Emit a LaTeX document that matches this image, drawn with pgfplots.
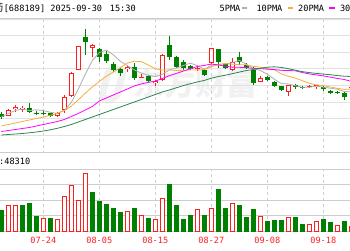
\documentclass[border=0pt]{standalone}
\usepackage{pgfplots}
\pgfplotsset{compat=1.18}
\usepackage{pgfplotstable}
\usepackage{fontspec}
\newfontfamily\monofont{DejaVu Sans Mono}
\newfontfamily\cjk{Noto Sans CJK SC}
\definecolor{kred}{RGB}{255,30,30}
\definecolor{kgreen}{RGB}{0,128,0}
\definecolor{maf}{RGB}{175,175,175}
\definecolor{mat}{RGB}{245,175,60}
\definecolor{maw}{RGB}{255,0,255}
\definecolor{mah}{RGB}{40,135,80}
\definecolor{gridc}{RGB}{225,225,225}
\definecolor{gridd}{RGB}{205,205,205}

\pgfplotstableread{
i top bot hi lo
-6 113.5 117 112 119
-2 108 111.5 102.5 112.5
-1 112.5 113.3 110.5 115
0 112.5 113.3 111 115
1 113.3 116 112.5 116.5
6 36.7 41.7 28.5 55
8 48.7 57 47.5 62
9 54 60.5 50.5 63
10 64.3 70 61.7 71.7
11 69 73.3 68 75.7
13 66.7 78.3 63.3 80
15 75.5 80.5 74.5 82
18 45 56.7 35.7 60
19 56.7 66.7 56 68
20 62 68 60 70
21 66 69 65 70
23 70 74.5 68.5 76
25 49.3 61.7 48.5 68.3
26 64 68 62.5 69
28 56.7 61.7 51.7 65
29 65 67.7 63 68.5
30 70 83.3 66.7 85
32 76.7 80 76 81
33 81.7 86.3 81 87
34 86 90 85.5 90.5
36 85 87.3 84 88.5
37 87 87.8 85.5 89
40 86.7 89.3 86 90.5
41 90.7 92.7 89.5 93.5
42 92 93 90.5 94
43 93.3 97.3 92 100
}\tgreen
\pgfplotstableread{
i top bot hi lo
-5 110 115.5 109 116
-4 107 109 105 111.5
-3 107.5 110 105.7 112
2 113 115.5 112 116.5
3 97 110 94.5 113
4 73.3 96 72 97
5 46 69.5 45.5 70
7 45 47.5 44 57
12 67.3 69.3 65 71.7
14 76.5 77.5 74.3 78.3
16 81 83 80 85.5
17 55 80 54 81
22 67.5 69.3 65 71
24 48.3 63.3 47.5 64
27 61.7 70 57.7 70.5
31 78.3 81.7 76 82
35 85 91.7 84.5 96
38 85.8 86.6 84.5 88
39 85.3 87.3 84.5 88.5
44 86.7 88.3 86 89
}\tred

\pgfplotstableread{
i v
-6 21
-3 25.3
-2 27.7
-1 14.3
1 12.7
7 38.7
8 30
9 26.7
10 22.7
11 18.3
13 22.7
15 12.7
18 46.7
19 25.3
20 12
21 16
23 16
25 41.7
26 22.7
28 26
29 13.7
30 21.7
32 10
33 11
34 11
36 13.7
37 7
40 11.7
41 8.3
43 10
}\gvol
\pgfplotstableread{
i v
-5 26
-4 26
0 12.7
2 11.7
3 35
4 46
5 30.3
6 57.7
12 20
14 16
16 11.7
17 32.7
22 21.7
24 22.7
27 27.7
31 14.3
35 13.7
38 7
39 9.3
42 6
44 5
}\rvol

\pgfplotstableread{
i a b c d
-6 117 126 131.5 135
-5 113.5 124.5 130.5 134.5
-4 110.5 123 129.5 134
-3 109 121.5 128.5 133.5
-2 110.6 120 127.5 132.8
-1 109.8 118.5 126 132
0 110.5 117 124.5 131
1 112.3 115.3 123 129.8
2 113.4 113.3 121.5 128.3
3 110.5 110.5 119.5 126.5
4 102.5 106.2 116.5 124.5
5 89.1 99.8 113.5 122
6 74.2 93.2 110 119.5
7 60.6 87 106.5 117
8 52.6 81.5 101 114.5
9 50 76.3 98 112
10 54.8 72 95 109.5
11 61.2 67.7 92 107
12 65.6 63.1 89 104.5
13 69.9 61.2 85.9 102
14 73.1 61.6 83.9 99.5
15 75.2 65 82.4 97
16 76.7 68.9 81.1 94.5
17 74.3 69.9 78.5 92
18 69.9 69.9 75.7 90
19 68 70.5 73.4 87.8
20 65.5 70.3 71.1 85.6
21 63.1 69.9 68.8 83.7
22 65.6 69.9 66.5 82
23 69.1 69.5 65.4 80.4
24 65.5 66.7 64.1 78.2
25 64.2 64.8 64.9 76.5
26 64 63.5 66.2 75.2
27 62.8 64.2 67.1 73.7
28 60.3 64.7 67.3 72.1
29 64.2 64.8 67.7 70.5
30 68.5 66.3 68.3 69.5
31 70.5 67.3 68.6 68.3
32 74.2 68.5 69.2 67.2
33 79.1 69.7 69.6 66.8
34 83.6 73.9 70.3 67.4
35 83.9 76.2 70.5 68.7
36 85.7 78.1 70.8 70.2
37 87.3 80.7 72.5 71.6
38 87.2 83.2 73.9 72.6
39 86.2 84.9 74.9 73.4
40 87.1 85.5 75.9 74.1
41 88.2 87 77.1 74.7
42 89.2 88.3 78.4 75.6
43 91.5 89.4 79.5 76.2
44 91.8 89 81.4 76.5
}\tma

\begin{document}
\begin{tikzpicture}
\useasboundingbox (0pt,0pt) rectangle (350pt,250pt);

% watermark
\node[anchor=center, text=gray!11, inner sep=0, font=\cjk\bfseries\fontsize{31}{31}\selectfont] at (195.5pt,166pt) {东方财富};
\draw[gray!11, line width=7pt, rounded corners=6pt] (101pt,151pt) -- (109pt,181pt) -- (124pt,181pt) -- (116pt,151pt) -- cycle;

% price panel
\begin{axis}[at={(0pt,98pt)}, anchor=south west, width=350pt, height=133pt, scale only axis,
  xmin=-6.186, xmax=43.814, ymin=19, ymax=152, y dir=reverse,
  axis line style={draw=none}, major tick length=0pt,
  xtick={0,8,16,24,32,40}, xticklabels={},
  ytick={19,35.625,52.25,68.875,85.5,102.125,118.75,135.375,152}, yticklabels={},
  xmajorgrids, ymajorgrids,
  x grid style={gridd, dash pattern=on 3pt off 3pt, line width=0.7pt},
  y grid style={gridc, line width=0.8pt}]
\addplot[quiver={u=0, v=\thisrow{lo}-\thisrow{hi}}, kgreen, line width=0.9pt, mark=none] table[x=i, y=hi] {\tgreen};
\addplot[quiver={u=0, v=\thisrow{bot}-\thisrow{top}}, kgreen, line width=4.6pt, mark=none] table[x=i, y=top] {\tgreen};
\addplot[quiver={u=0, v=\thisrow{lo}-\thisrow{hi}}, kred, line width=0.9pt, mark=none] table[x=i, y=hi] {\tred};
\addplot[quiver={u=0, v=\thisrow{bot}-\thisrow{top}}, kred, line width=4.6pt, mark=none] table[x=i, y=top] {\tred};
\addplot[quiver={u=0, v={max(\thisrow{bot}-\thisrow{top}-1.8,0)}}, white, line width=2.8pt, mark=none] table[x=i, y expr=\thisrow{top}+0.9] {\tred};
\addplot[maf, line width=0.8pt, mark=none] table[x=i, y=a] {\tma};
\addplot[mat, line width=0.8pt, mark=none] table[x=i, y=b] {\tma};
\addplot[maw, line width=0.8pt, mark=none] table[x=i, y=c] {\tma};
\addplot[mah, line width=0.8pt, mark=none] table[x=i, y=d] {\tma};
\end{axis}

% volume panel
\begin{axis}[at={(0pt,19pt)}, anchor=south west, width=350pt, height=62pt, scale only axis,
  xmin=-6.186, xmax=43.814, ymin=0, ymax=62,
  axis line style={draw=none}, major tick length=0pt,
  xtick={0,8,16,24,32,40}, xticklabels={07-24,08-05,08-15,08-27,09-08,09-18},
  xticklabel style={font=\monofont\fontsize{8.6}{10}\selectfont, text=kred, anchor=base, yshift=-12.5pt, inner sep=0pt},
  ytick={0,15.5,31,46.5,62}, yticklabels={},
  xmajorgrids, ymajorgrids,
  x grid style={gridd, dash pattern=on 3pt off 3pt, line width=0.7pt},
  y grid style={gridd, line width=0.9pt}]
\addplot[ybar, bar width=4pt, bar shift=0pt, fill=kgreen, draw=kgreen, line width=0.5pt] table[x=i, y=v] {\gvol};
\addplot[ybar, bar width=3.6pt, bar shift=0pt, fill=white, draw=kred, line width=0.8pt] table[x=i, y=v] {\rvol};
\end{axis}

\draw[gray!40, line width=0.8pt] (0pt,231.5pt) -- (350pt,231.5pt);
\draw[gridd, line width=0.9pt] (0pt,98pt) -- (350pt,98pt);

% title
\node[anchor=base east, inner sep=0, font=\cjk\fontsize{10}{10}\selectfont] at (3.6pt,239pt) {药};
\node[anchor=base west, inner sep=0, font=\monofont\fontsize{8.6}{10}\selectfont] at (3.6pt,239pt) {[688189] 2025-09-30\hspace{2.5pt} 15:30};
% legend
\node[anchor=base west, inner sep=0, font=\monofont\fontsize{8.6}{10}\selectfont] at (219.5pt,239pt) {5PMA};
\node[anchor=base west, inner sep=0] at (241.7pt,239pt) {\textcolor{maf}{\rule[2.3pt]{5pt}{2pt}}};
\node[anchor=base west, inner sep=0, font=\monofont\fontsize{8.6}{10}\selectfont] at (256.3pt,239pt) {10PMA};
\node[anchor=base west, inner sep=0] at (287.7pt,239pt) {\textcolor{mat}{\rule[2.3pt]{5.5pt}{2pt}}};
\node[anchor=base west, inner sep=0, font=\monofont\fontsize{8.6}{10}\selectfont] at (298pt,239pt) {20PMA};
\node[anchor=base west, inner sep=0] at (329pt,239pt) {\textcolor{maw}{\rule[2.3pt]{5.3pt}{2pt}}};
\node[anchor=base west, inner sep=0, font=\monofont\fontsize{8.6}{10}\selectfont] at (339.8pt,239pt) {30PMA};
% volume info
\node[anchor=base west, inner sep=0, font=\monofont\fontsize{8.6}{10}\selectfont] at (-1pt,86pt) {:48310};
\end{tikzpicture}
\end{document}
